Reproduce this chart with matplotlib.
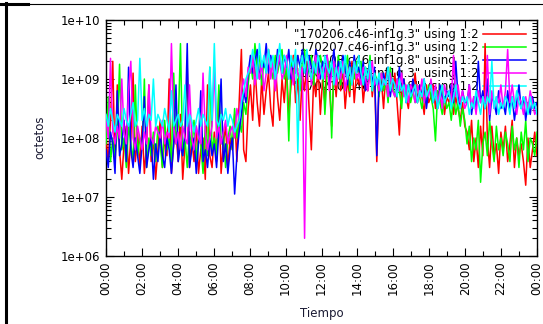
import numpy as np
import matplotlib
matplotlib.use("Agg")
import matplotlib.pyplot as plt
from matplotlib.lines import Line2D
from matplotlib.ticker import FixedLocator, LogLocator, NullFormatter

# log10(octetos), 7.5-minute samples, one row = 1 hour
red_log = [
    8.0, 7.6, 8.3, 9.3, 7.5, 8.9, 7.8, 7.3,
    7.9, 8.2, 7.4, 8.0, 9.1, 7.6, 8.1, 7.5,
    8.2, 7.4, 7.9, 8.9, 7.6, 8.0, 7.3, 7.8,
    8.3, 7.5, 8.0, 7.7, 9.0, 7.4, 7.9, 8.1,
    7.6, 8.4, 7.3, 7.9, 9.2, 7.5, 8.0, 7.6,
    8.2, 7.4, 7.8, 8.0, 7.3, 8.9, 7.7, 7.5,
    8.1, 7.6, 8.8, 7.4, 7.9, 8.2, 7.5, 8.0,
    7.8, 8.4, 7.6, 8.6, 9.5, 7.8, 7.6, 8.5,
    8.9, 8.3, 9.2, 8.6, 8.2, 9.0, 8.4, 8.8,
    9.1, 8.5, 8.2, 9.3, 8.7, 8.3, 9.0, 8.6,
    9.2, 8.4, 8.9, 9.4, 8.6, 9.0, 8.3, 9.1,
    8.8, 9.3, 8.5, 7.8, 9.0, 8.7, 9.2, 8.4,
    9.0, 8.6, 9.4, 8.9, 8.2, 9.1, 8.7, 9.3,
    8.8, 9.2, 8.5, 9.0, 8.7, 9.3, 8.6, 9.1,
    8.9, 9.2, 8.6, 9.0, 8.8, 9.3, 8.7, 9.1,
    7.6, 8.9, 9.0, 8.5, 9.1, 8.7, 9.0, 8.8,
    9.1, 8.6, 8.05, 8.9, 9.0, 8.7, 8.5, 8.9,
    8.8, 9.1, 8.6, 8.9, 8.7, 8.4, 8.9, 8.6,
    8.7, 8.9, 8.5, 8.8, 8.6, 8.9, 8.4, 8.7,
    8.6, 8.8, 8.4, 8.7, 8.5, 8.3, 8.6, 8.2,
    8.1, 7.8, 8.3, 7.6, 8.0, 7.5, 8.2, 7.7,
    9.6, 8.0, 7.5, 8.2, 7.7, 7.9, 7.4, 8.1,
    7.8, 8.2, 7.6, 7.9, 8.3, 7.5, 8.0, 7.7,
    7.9, 7.6, 7.2, 8.0, 7.5, 7.8, 8.1, 7.7,
]
green_log = [
    7.9, 8.7, 7.6, 8.0, 7.7, 8.1, 9.25, 7.8,
    8.0, 7.5, 8.2, 7.9, 7.6, 8.9, 7.7, 8.0,
    7.8, 9.0, 7.5, 8.0, 7.7, 8.1, 7.6, 8.2,
    7.9, 7.5, 8.3, 7.8, 8.0, 7.6, 9.1, 7.9,
    8.2, 9.6, 7.7, 8.0, 7.5, 8.1, 7.8, 8.3,
    7.6, 8.0, 7.9, 7.4, 8.2, 7.7, 9.2, 7.8,
    8.0, 7.7, 8.9, 7.9, 8.1, 7.5, 8.0, 8.2,
    7.8, 8.5, 8.0, 8.3, 8.1, 8.6, 8.4, 8.9,
    9.3, 9.0, 9.6, 9.2, 9.4, 8.9, 9.3, 9.1,
    9.5, 9.2, 9.0, 9.4, 9.1, 9.3, 9.5, 9.0,
    9.2, 7.95, 9.3, 9.0, 9.4, 9.1, 8.8, 9.3,
    9.5, 9.0, 9.2, 9.4, 8.9, 9.3, 9.1, 9.4,
    9.2, 8.4, 9.1, 9.3, 8.0, 9.2, 9.0, 9.4,
    8.9, 9.3, 9.1, 9.4, 8.8, 9.2, 9.0, 9.3,
    9.1, 9.3, 8.9, 9.2, 9.0, 9.4, 8.8, 9.1,
    9.0, 8.7, 9.1, 8.8, 9.0, 8.6, 9.2, 8.9,
    8.7, 9.0, 8.8, 8.5, 9.0, 8.7, 8.9, 8.6,
    8.8, 8.6, 8.9, 8.7, 8.5, 8.8, 8.6, 8.9,
    8.7, 8.5, 7.95, 8.8, 8.6, 8.4, 8.7, 8.5,
    8.6, 8.3, 8.7, 8.4, 8.6, 8.2, 8.5, 8.3,
    7.9, 8.2, 7.6, 8.0, 7.8, 8.3, 7.25, 7.9,
    8.1, 7.7, 8.3, 7.9, 7.6, 8.2, 7.8, 8.0,
    7.7, 8.1, 7.9, 7.6, 8.2, 7.8, 8.0, 7.5,
    8.1, 7.8, 8.3, 7.6, 8.0, 7.9, 7.7, 8.1,
]
blue_log = [
    7.8, 7.5, 8.1, 7.9, 7.4, 8.8, 7.7, 7.9,
    8.3, 7.6, 9.2, 7.8, 7.5, 8.0, 7.7, 7.4,
    7.9, 8.7, 7.5, 7.8, 8.0, 7.3, 7.9, 7.6,
    8.1, 7.7, 7.5, 8.0, 7.8, 7.4, 7.9, 8.9,
    7.6, 7.9, 7.7, 8.1, 9.6, 7.5, 7.8, 8.0,
    7.4, 7.9, 8.8, 7.6, 7.8, 7.5, 8.0, 7.7,
    7.9, 7.5, 8.1, 9.0, 7.6, 7.9, 7.4, 7.8,
    8.0, 7.05, 7.7, 8.1, 8.4, 8.8, 8.6, 9.1,
    9.4, 9.1, 9.3, 9.5, 9.0, 9.3, 9.2, 9.6,
    9.1, 9.4, 9.2, 9.0, 9.5, 9.3, 9.1, 9.4,
    9.2, 9.5, 9.0, 9.3, 9.1, 9.4, 9.2, 9.5,
    9.3, 9.0, 9.4, 9.2, 9.1, 9.5, 9.3, 9.0,
    9.3, 9.1, 9.4, 8.9, 9.2, 9.5, 9.0, 9.3,
    9.1, 9.4, 9.2, 8.9, 9.3, 9.0, 9.4, 9.1,
    9.2, 9.0, 9.3, 8.8, 9.1, 9.3, 8.9, 9.2,
    7.7, 9.0, 8.8, 9.1, 8.9, 9.2, 8.7, 9.0,
    8.9, 8.7, 9.2, 8.8, 9.0, 8.6, 8.9, 8.7,
    9.0, 8.8, 8.6, 8.9, 8.7, 9.0, 8.5, 8.8,
    8.9, 8.6, 8.8, 8.5, 8.9, 8.7, 8.6, 8.8,
    8.7, 8.9, 8.6, 9.3, 8.7, 8.5, 8.8, 8.6,
    8.6, 8.9, 8.4, 8.7, 8.5, 9.3, 8.6, 8.8,
    8.5, 9.0, 8.3, 8.7, 8.6, 8.4, 8.8, 8.5,
    8.6, 8.4, 8.8, 8.5, 8.7, 8.3, 8.6, 8.9,
    8.5, 8.7, 8.3, 8.6, 8.4, 8.7, 8.5, 8.6,
]
magenta_log = [
    8.3, 8.0, 9.35, 8.1, 7.9, 8.2, 8.0, 9.0,
    8.1, 7.9, 8.8, 9.3, 8.0, 7.8, 8.2, 8.0,
    7.8, 8.1, 7.9, 8.9, 8.0, 7.9, 8.2, 8.1,
    8.0, 8.3, 7.9, 8.1, 8.0, 9.6, 8.2, 7.9,
    8.1, 7.8, 8.2, 8.0, 7.9, 8.9, 8.0, 7.8,
    8.2, 8.0, 7.9, 9.1, 8.1, 7.8, 8.0, 8.2,
    9.2, 8.0, 8.2, 7.9, 8.1, 8.3, 7.9, 8.1,
    8.2, 8.0, 8.5, 8.3, 8.8, 9.0, 8.7, 9.2,
    9.1, 9.4, 8.9, 9.2, 9.0, 9.3, 8.8, 9.1,
    9.5, 9.0, 9.3, 8.8, 9.2, 9.4, 9.0, 9.1,
    9.4, 9.0, 9.2, 8.9, 9.3, 9.1, 9.0, 9.2,
    6.3, 9.1, 9.3, 8.9, 9.2, 9.4, 9.0, 9.1,
    9.2, 9.0, 9.4, 8.8, 9.1, 9.3, 8.9, 9.2,
    9.0, 9.3, 8.8, 9.1, 9.2, 8.9, 9.3, 9.0,
    9.1, 8.9, 9.2, 9.0, 8.8, 9.1, 9.3, 8.9,
    9.0, 8.8, 9.1, 8.9, 9.0, 8.7, 9.1, 8.8,
    8.7, 9.0, 8.8, 9.1, 8.7, 8.9, 8.6, 8.9,
    8.8, 8.6, 8.9, 8.7, 9.0, 8.6, 8.8, 8.7,
    9.0, 8.7, 8.9, 8.6, 8.8, 8.5, 8.9, 8.7,
    8.8, 8.6, 9.4, 8.7, 8.9, 8.6, 8.8, 8.5,
    8.6, 8.9, 8.5, 8.7, 8.4, 8.8, 8.6, 8.7,
    8.6, 9.4, 8.4, 8.8, 8.5, 8.7, 8.6, 8.9,
    8.5, 8.8, 9.5, 8.6, 8.9, 8.6, 8.4, 8.7,
    8.6, 8.4, 8.7, 8.5, 8.8, 8.6, 8.4, 8.5,
]
cyan_log = [
    8.4, 8.2, 8.5, 8.3, 8.1, 8.4, 8.3, 8.2,
    8.5, 8.3, 8.2, 8.4, 8.6, 8.2, 8.3, 9.35,
    8.3, 8.5, 8.2, 8.4, 8.3, 9.0, 8.2, 8.4,
    8.3, 8.2, 8.5, 8.3, 8.1, 8.8, 8.2, 8.3,
    8.4, 8.2, 8.3, 8.9, 8.2, 8.4, 8.3, 8.1,
    8.3, 8.5, 8.2, 8.4, 8.3, 8.2, 9.2, 8.3,
    9.6, 8.3, 8.2, 8.4, 8.3, 8.5, 8.2, 8.4,
    8.3, 8.1, 8.2, 8.3, 8.6, 8.8, 9.0, 9.1,
    9.2, 9.5, 9.3, 9.0, 9.6, 9.2, 9.4, 9.1,
    9.5, 9.2, 9.4, 9.0, 9.3, 9.6, 9.1, 9.4,
    9.3, 9.0, 9.4, 9.2, 9.5, 7.75, 9.2, 9.4,
    9.1, 9.5, 9.2, 9.0, 9.3, 9.1, 9.4, 9.2,
    9.0, 9.4, 9.2, 9.1, 9.3, 8.9, 9.2, 9.0,
    9.3, 9.1, 9.4, 9.0, 9.2, 8.9, 9.3, 9.1,
    9.4, 9.1, 8.9, 9.2, 9.0, 9.3, 8.8, 9.1,
    8.9, 9.1, 8.8, 9.0, 8.9, 9.2, 8.8, 9.0,
    8.9, 8.7, 9.0, 8.8, 8.9, 8.6, 8.9, 8.7,
    8.8, 8.9, 8.6, 8.8, 8.7, 9.0, 8.7, 8.8,
    8.9, 8.6, 8.8, 8.5, 8.7, 8.9, 8.6, 8.7,
    8.8, 8.5, 8.7, 8.9, 8.6, 8.5, 8.7, 8.6,
    8.7, 8.4, 8.6, 8.5, 8.8, 8.6, 8.4, 8.7,
    8.5, 8.7, 8.6, 9.3, 8.5, 8.7, 8.4, 8.6,
    8.5, 8.7, 8.6, 8.4, 8.7, 8.5, 8.8, 8.6,
    8.5, 8.7, 8.6, 8.4, 8.7, 8.5, 8.6, 8.4,
]

series_labels = [
    '"170206.c46-inf1g.3" using 1:2',
    '"170207.c46-inf1g.3" using 1:2',
    '"170208.c46-inf1g.8" using 1:2',
    '"170209.c46-inf1g.3" using 1:2',
    '"170210.c46-inf1g.8" using 1:2',
]
series_colors = ["#ff0000", "#00ff00", "#0000ff", "#ff00ff", "#00ffff"]
tick_hours = [0, 2, 4, 6, 8, 10, 12, 14, 16, 18, 20, 22, 24]
tick_labels = ["00:00", "02:00", "04:00", "06:00", "08:00", "10:00", "12:00",
               "14:00", "16:00", "18:00", "20:00", "22:00", "00:00"]
y_ticks = [1e6, 1e7, 1e8, 1e9, 1e10]
y_tick_labels = ["1e+06", "1e+07", "1e+08", "1e+09", "1e+10"]

W, H = 543, 324
fig = plt.figure(figsize=(W / 100, H / 100), dpi=100)
fig.patch.set_facecolor("white")
ax = fig.add_axes([106 / W, 1 - 256 / H, (537 - 106) / W, (256 - 20) / H])

all_series = [red_log, green_log, blue_log, magenta_log, cyan_log]
for vals, col, lab in zip(all_series, series_colors, series_labels):
    v = np.array(vals)
    n = len(v)
    t = np.arange(n) * 24.0 / (n - 1)
    ax.plot(t, 10 ** v, color=col, lw=1.1, label=lab, zorder=3)

ax.set_yscale("log")
ax.set_ylim(1e6, 1e10)
ax.set_xlim(0, 24)
ax.set_xticks(tick_hours)
ax.set_xticklabels(tick_labels, rotation=90, fontsize=8.5)
ax.xaxis.set_minor_locator(FixedLocator(np.arange(1, 24, 2)))
ax.set_yticks(y_ticks)
ax.set_yticklabels(y_tick_labels, fontsize=8.5)
ax.yaxis.set_minor_locator(LogLocator(base=10, subs=np.arange(2, 10)))
ax.yaxis.set_minor_formatter(NullFormatter())
ax.tick_params(which="major", direction="in", length=6, width=0.8,
               top=True, right=True, pad=4)
ax.tick_params(which="minor", direction="in", length=3.5, width=0.8,
               top=True, right=True)
for sp in ax.spines.values():
    sp.set_color("black")
    sp.set_linewidth(1.0)

leg = ax.legend(loc="upper right", bbox_to_anchor=(0.985, 0.985),
                frameon=False, fontsize=8.5, markerfirst=False,
                handlelength=3.6, handletextpad=0.4, labelspacing=0.0,
                borderaxespad=0.2, borderpad=0.2)
leg.set_zorder(1)

fig.text(40 / W, 1 - 137 / H, "octetos", rotation=90, ha="center",
         va="center", fontsize=8.5, color="#1a1a33")
fig.text(322 / W, 1 - 314 / H, "Tiempo", ha="center", va="center",
         fontsize=8.5, color="#1a1a33")

# outer frame lines
fig.add_artist(Line2D([0, 1], [1 - 3.5 / H, 1 - 3.5 / H],
                      transform=fig.transFigure, color="black", lw=0.8))
fig.add_artist(Line2D([0, 28 / W], [1 - 4 / H, 1 - 4 / H],
                      transform=fig.transFigure, color="black", lw=2.2))
fig.add_artist(Line2D([6 / W, 6 / W], [1 - 3 / H, 0],
                      transform=fig.transFigure, color="black", lw=2.2))

fig.savefig("out.png", dpi=100)
